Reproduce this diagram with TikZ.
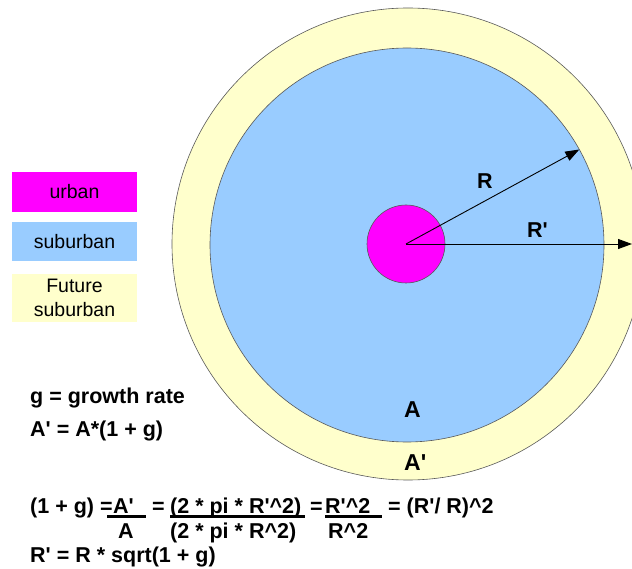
\documentclass[tikz,border=0pt]{standalone}
\usepackage{fontspec}
\setmainfont{Liberation Sans}
\newfontfamily\ls{Liberation Sans}
\usetikzlibrary{arrows.meta}
\definecolor{urb}{HTML}{FF00FF}
\definecolor{sub}{HTML}{99CCFF}
\definecolor{futy}{HTML}{FFFFCC}
\begin{document}
\begin{tikzpicture}[x=1pt,y=-1pt,
  ring/.style={circle, draw=black!65, line width=0.6pt, inner sep=0pt, outer sep=0pt},
  lab/.style={font=\ls\bfseries\fontsize{21.5}{24}\selectfont, inner sep=0pt, anchor=base west},
  big/.style={font=\ls\bfseries\fontsize{23}{24}\selectfont, inner sep=0pt, anchor=base west},
  leg/.style={rectangle, minimum width=125pt, inner sep=0pt, font=\ls\fontsize{19.5}{23.5}\selectfont, align=center},
  arr/.style={-{Triangle[length=14pt,width=10pt]}, line width=0.9pt},
  bar/.style={line width=3.5pt}]
\useasboundingbox (0,0) rectangle (632,569);
\clip (0,0) rectangle (632,569);
\fill[white] (0,0) rectangle (632,569);
% circles
\node[ring, fill=futy, minimum size=472pt] (outer) at (408,244) {};
\node[ring, fill=sub, minimum size=394pt] (inner) at (407,245) {};
\node[ring, fill=urb, minimum size=78pt] (core) at (406,244) {};
% arrows
\coordinate (rp) at (632,244);
\draw[arr] (core.center) -- (inner.29.5);
\draw[arr] (core.center) -- (rp);
% circle labels
\node[lab] (lR) at (477,189) {R};
\node[lab] (lRp) at (527,238) {R'};
\node[big] (lA) at (404,417) {A};
\node[big] (lAp) at (404,470) {A'};
% legend
\node[leg, fill=urb, minimum height=40pt] (lu) at (74.5,192) {urban};
\node[leg, fill=sub, minimum height=39pt] (ls) at (74.5,241.5) {suburban};
\node[leg, fill=futy, minimum height=48pt] (lf) at (74.5,298) {Future\\suburban};
% equations
\node[lab] (t1) at (30,403) {g = growth rate};
\node[lab] (t2) at (30,436) {A' = A*(1 + g)};
\node[lab] (f1) at (30,513) {(1 + g) =};
\node[lab] (f2) at (113,513) {A'};
\node[lab] (f3) at (152,513) {=};
\node[lab] (f4) at (170,513) {(2 * pi * R'\textasciicircum 2)};
\node[lab] (f5) at (310,513) {=};
\node[lab] (f6) at (325,513) {R'\textasciicircum 2};
\node[lab] (f7) at (388,513) {= (R'/ R)\textasciicircum 2};
\node[lab] (d1) at (118,538) {A};
\node[lab] (d2) at (170,538) {(2 * pi * R\textasciicircum 2)};
\node[lab] (d3) at (328,538) {R\textasciicircum 2};
\node[lab] (t3) at (30,562) {R' = R * sqrt(1 + g)};
% fraction bars
\draw[bar] (107,516.5) -- (146,516.5);
\draw[bar] (170,516.5) -- (305,516.5);
\draw[bar] (325,516.5) -- (382,516.5);
\end{tikzpicture}
\end{document}
